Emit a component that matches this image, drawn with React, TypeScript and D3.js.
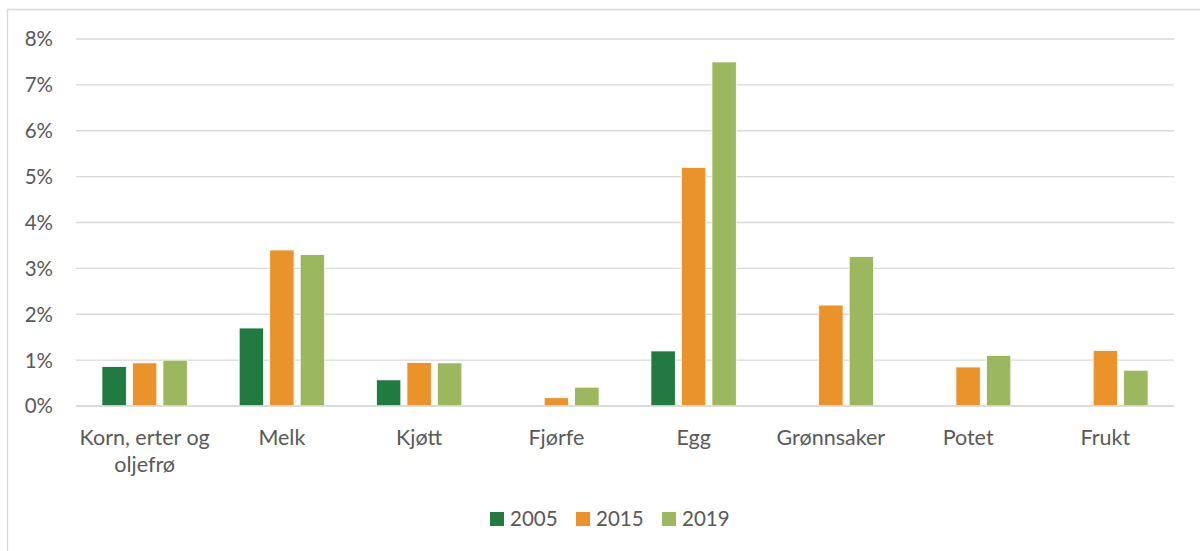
import React from "react";
import * as d3 from "d3";

const categories: string[][] = [
  ["Korn, erter og", "oljefrø"],
  ["Melk"],
  ["Kjøtt"],
  ["Fjørfe"],
  ["Egg"],
  ["Grønnsaker"],
  ["Potet"],
  ["Frukt"],
];
const seriesNames = ["2005", "2015", "2019"];
const values2005: (number | null)[] = [0.86, 1.7, 0.57, null, 1.2, null, null, null];
const values2015: (number | null)[] = [0.94, 3.4, 0.95, 0.18, 5.2, 2.2, 0.85, 1.21];
const values2019: (number | null)[] = [1.0, 3.3, 0.94, 0.41, 7.5, 3.26, 1.1, 0.78];
const yTicks = [0, 1, 2, 3, 4, 5, 6, 7, 8];
const colors = ["#217A3F", "#EA932B", "#9BB85F"];

const W = 1200;
const H = 551;
const FONT = "Lato, 'Open Sans', sans-serif";
const TEXT = "#595959";

export default function App() {
  const allSeries = [values2005, values2015, values2019];
  const x0 = d3
    .scaleBand<number>()
    .domain(d3.range(categories.length))
    .range([76, 1174])
    .paddingInner(1 / 3)
    .paddingOuter(1 / 6);
  const x1 = d3
    .scaleBand<number>()
    .domain(d3.range(seriesNames.length))
    .range([0, x0.bandwidth()])
    .paddingInner(0.2)
    .paddingOuter(0.1);
  const y = d3.scaleLinear().domain([0, 8]).range([406, 39]);

  const legendX = [490, 576, 662];

  return (
    <svg
      width={W}
      height={H}
      style={{ position: "absolute", left: 0, top: 0, background: "#fff" }}
    >
      <rect x={0} y={0} width={W} height={H} fill="#fff" />
      <path d={`M7.5,${H + 5} V9.5 H${W + 5}`} fill="none" stroke="#D9D9D9" strokeWidth={1.3} />
      {yTicks.map((t) => (
        <g key={t}>
          <line x1={76} x2={1174} y1={y(t)} y2={y(t)} stroke="#D9D9D9" strokeWidth={1.4} />
          <text
            x={53}
            y={y(t)}
            dy="0.36em"
            textAnchor="end"
            fontFamily={FONT}
            fontSize={20.5}
            fill={TEXT}
          >
            {t}%
          </text>
        </g>
      ))}
      {allSeries.map((vals, si) =>
        vals.map((v, ci) =>
          v == null ? null : (
            <rect
              key={`${si}-${ci}`}
              x={(x0(ci) as number) + (x1(si) as number)}
              y={y(v)}
              width={x1.bandwidth()}
              height={y(0) - y(v)}
              fill={colors[si]}
              stroke="#fff"
              strokeWidth={0.8}
            />
          )
        )
      )}
      <line x1={76} x2={1174} y1={y(0)} y2={y(0)} stroke="#D9D9D9" strokeWidth={1.4} />
      {categories.map((lines, ci) => (
        <text
          key={ci}
          textAnchor="middle"
          fontFamily={FONT}
          fontSize={21.5}
          fill={TEXT}
        >
          {lines.map((l, li) => (
            <tspan key={li} x={(x0(ci) as number) + x0.bandwidth() / 2} y={445 + li * 27}>
              {l}
            </tspan>
          ))}
        </text>
      ))}
      {seriesNames.map((s, si) => (
        <g key={s}>
          <rect x={legendX[si]} y={512} width={14} height={14} fill={colors[si]} />
          <text
            x={legendX[si] + 20}
            y={526}
            fontFamily={FONT}
            fontSize={20.5}
            fill={TEXT}
          >
            {s}
          </text>
        </g>
      ))}
    </svg>
  );
}
